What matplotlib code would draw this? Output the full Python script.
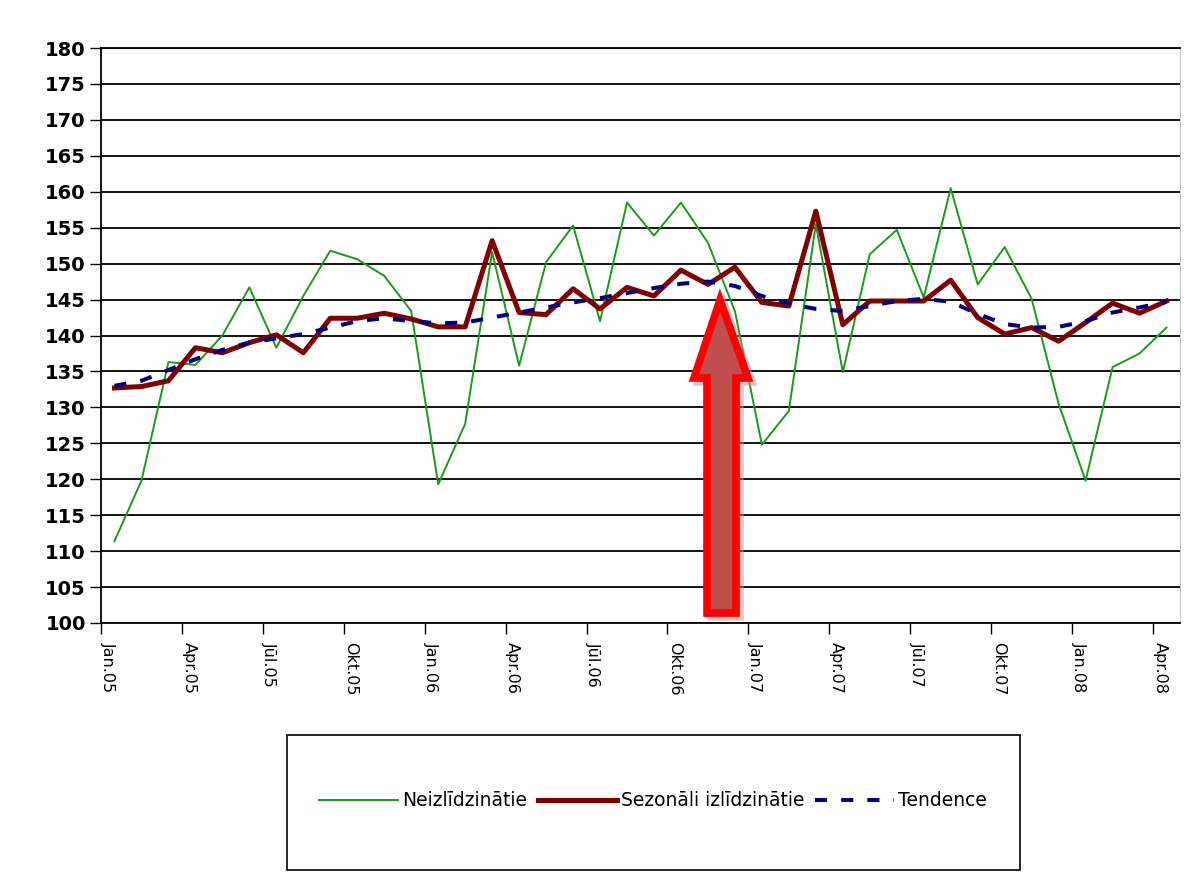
import matplotlib
matplotlib.use("Agg")
import matplotlib.pyplot as plt
from matplotlib.patches import Polygon, Rectangle
from matplotlib.transforms import ScaledTranslation

# monthly index values, Jan.05 .. Apr.08
raw = [111.4, 119.8, 136.3, 135.9, 140.0, 146.7, 138.3, 145.5, 151.8, 150.6,
       148.3, 143.4, 119.3, 127.7, 151.6, 135.8, 150.2, 155.3, 142.0, 158.5,
       153.9, 158.5, 152.9, 143.4, 124.8, 129.5, 155.5, 134.9, 151.3, 154.7,
       145.3, 160.5, 147.1, 152.3, 145.1, 130.5, 119.8, 135.6, 137.5, 141.1]
seasonal = [132.7, 132.9, 133.7, 138.3, 137.6, 139.0, 140.1, 137.6, 142.4, 142.4,
            143.1, 142.3, 141.2, 141.2, 153.2, 143.2, 142.9, 146.5, 143.7, 146.7,
            145.5, 149.1, 147.1, 149.5, 144.6, 144.1, 157.3, 141.5, 144.8, 144.8,
            144.8, 147.7, 142.5, 140.2, 141.1, 139.2, 141.8, 144.5, 143.1, 144.8]
trend = [133.0, 133.7, 135.2, 136.7, 138.0, 139.0, 139.6, 140.2, 141.1, 142.0,
         142.4, 142.0, 141.7, 141.8, 142.5, 143.2, 143.9, 144.6, 145.2, 145.9,
         146.6, 147.2, 147.5, 146.9, 145.5, 144.4, 143.7, 143.4, 144.1, 144.8,
         145.1, 144.7, 143.0, 141.6, 141.1, 141.2, 142.0, 143.2, 143.9, 144.7]
tick_labels = ["Jan.05", "Apr.05", "Jūl.05", "Okt.05", "Jan.06", "Apr.06",
               "Jūl.06", "Okt.06", "Jan.07", "Apr.07", "Jūl.07", "Okt.07",
               "Jan.08", "Apr.08"]
series_names = ["Neizlīdzinātie", "Sezonāli izlīdzinātie", "Tendence"]

W, H = 1190, 884
fig = plt.figure(figsize=(W / 100, H / 100), dpi=100)
fig.patch.set_facecolor("white")
ax = fig.add_axes([101 / W, 1 - 623 / H, (1180 - 101) / W, (623 - 48) / H])

x = [i + 0.5 for i in range(len(raw))]
ax.plot(x, raw, color="#1a9a1a", lw=1.4, label=series_names[0])
ax.plot(x, seasonal, color="#800000", lw=3.6, solid_joinstyle="round",
        label=series_names[1])
ax.plot(x, trend, color="#000080", lw=2.9, linestyle=(0, (3, 3.5)),
        label=series_names[2])

ax.set_xlim(0, len(raw))
ax.set_ylim(100, 180)
ax.set_yticks(range(100, 181, 5))
ax.yaxis.grid(True, color="black", lw=1.3)
ax.set_axisbelow(True)
ax.tick_params(axis="y", length=8, width=1, pad=3, labelsize=14)
for lab in ax.get_yticklabels():
    lab.set_fontweight("bold")

ax.set_xticks(range(0, len(raw), 3))
ax.set_xticklabels(tick_labels, rotation=270, ha="center", va="top", fontsize=11.5)
ax.tick_params(axis="x", length=8, width=1, pad=6)
shift = ScaledTranslation(7 / 100, 0, fig.dpi_scale_trans)
for lab in ax.get_xticklabels():
    lab.set_transform(lab.get_transform() + shift)

for side in ["left", "bottom", "top"]:
    ax.spines[side].set_color("black")
    ax.spines[side].set_linewidth(1.3)
ax.spines["right"].set_color("#c8c8c8")

# legend box
fig.patches.append(Rectangle((287 / W, 1 - 870 / H), (1020 - 287) / W, (870 - 735) / H,
                             transform=fig.transFigure, fill=False,
                             edgecolor="black", lw=1.2))
fig.legend(loc="center", bbox_to_anchor=(653 / W, 1 - 801 / H), ncol=3,
           frameon=False, fontsize=13.5, handlelength=4.2, handletextpad=0.2,
           columnspacing=0.6)

# highlight arrow
pts = [(707, 613), (707, 378), (694, 378), (720, 300), (748, 378),
       (736, 378), (736, 613)]
shadow = [((px + 4) / W, 1 - (py + 4) / H) for px, py in pts]
fig.patches.append(Polygon(shadow, closed=True, transform=fig.transFigure,
                           facecolor="#b89090", edgecolor="#b89090", lw=5.5,
                           alpha=0.5))
arrow = [(px / W, 1 - py / H) for px, py in pts]
fig.patches.append(Polygon(arrow, closed=True, transform=fig.transFigure,
                           facecolor="#c0504d", edgecolor="#ff0000", lw=5.5,
                           joinstyle="miter"))

fig.savefig("out.png", dpi=100)
